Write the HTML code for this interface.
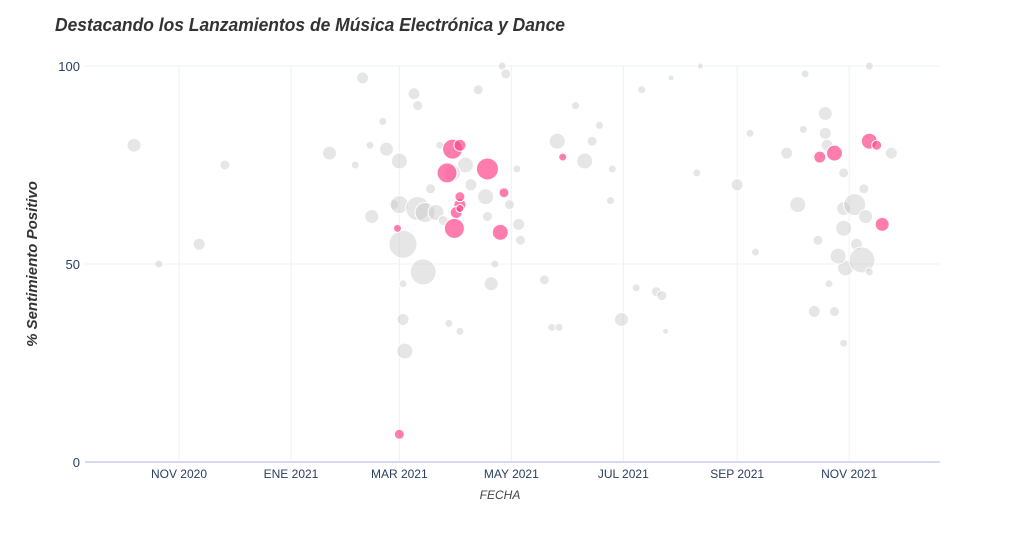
<!DOCTYPE html>
<html><head><meta charset="utf-8"><style>
html,body{margin:0;padding:0;background:#fff;}
svg text{font-family:"Liberation Sans",sans-serif;}
</style></head><body>
<svg id="chart" width="1024" height="546" xmlns="http://www.w3.org/2000/svg">
<text x="55" y="31" font-size="18" font-weight="bold" font-style="italic" fill="#333" textLength="510" lengthAdjust="spacingAndGlyphs">Destacando los Lanzamientos de Música Electrónica y Dance</text>
<g id="grid"></g>
<g id="marks"></g>
<g id="axes"></g>
<text transform="translate(37,264) rotate(-90)" text-anchor="middle" font-size="15" font-weight="bold" font-style="italic" fill="#333">% Sentimiento Positivo</text>
<text x="500" y="499" text-anchor="middle" font-size="12" font-style="italic" fill="#444">FECHA</text>
</svg>
<script>
// days since 2020-11-01, % positive, marker size
const grayDays=[-24.5,-11,11,25,82,96,100,105,104,111,113,117,120,122,123,122,120,122,128,130,133,130,134,137,142,140,147,153,144,156,149,159,163,167,168,170,172,176,178,180,185,186,184,199,206,203,207,216,221,225,229,235,236,241,252,249,260,263,265,268,282,284,304,311,314,331,337,340,341,346,348,352,352,353,354,357,362,362,362,363,359,368,369,372,373,374,376,388,362,376];
const grayVals=[80,50,55,75,78,75,97,62,80,86,79,65,65,55,28,36,76,45,93,90,48,64,63,69,80,63,35,33,61,75,73,70,94,67,62,45,50,100,98,65,60,56,74,46,81,34,34,90,76,81,85,66,74,36,94,44,43,42,33,97,73,100,70,83,53,78,65,84,98,38,56,88,83,80,45,38,64,59,73,49,52,65,55,51,69,62,48,78,30,100];
const grayRad=[7,4,6,5,7,4,6,7,4,4,7,5,9,14,8,6,8,4,6,5,13,12,10,5,4,8,4,4,5,8,8,6,5,8,5,7,4,4,5,5,6,5,4,5,8,4,4,4,8,5,4,4,4,7,4,4,5,5,3,3,4,3,6,4,4,6,8,4,4,6,5,7,6,6,4,5,7,8,5,8,8,11,6,13,5,7,4,6,4,4];
const pinkDays=[120,119,146,149,153,150,153,153,151,153,168,175,177,209,349,357,376,380,383];
const pinkVals=[7,59,73,79,80,59,65,67,63,64,74,58,68,77,77,78,81,80,60];
const pinkRad=[5,4,10,10,6,10,6,5,6,4,11,8,5,4,6,8,8,5,7];
const xTickDays=[0,61,120,181,242,304,365];
const xTickLabels=["NOV 2020","ENE 2021","MAR 2021","MAY 2021","JUL 2021","SEP 2021","NOV 2021"];
const yTicks=[0,50,100];

const NS="http://www.w3.org/2000/svg";
const L=85,R=940,T=66,B=462;
const xs=d=>179+d*1.836;
const ys=v=>B-(v/100)*(B-T);
function mk(tag,attrs,parent){const e=document.createElementNS(NS,tag);for(const k in attrs)e.setAttribute(k,attrs[k]);parent.appendChild(e);return e;}
const grid=document.getElementById('grid'),marks=document.getElementById('marks'),axes=document.getElementById('axes');
xTickDays.forEach((d,i)=>{
  const l=mk('line',{x1:xs(d),x2:xs(d),y1:T,y2:B,stroke:'#ebf0f8','stroke-width':1},grid);
  
  
  const t=mk('text',{x:xs(d),y:478,'text-anchor':'middle','font-size':12,fill:'#2a3f5f'},axes);
  t.textContent=xTickLabels[i];
  
  
});
yTicks.forEach(v=>{
  const l=mk('line',{x1:L,x2:R,y1:ys(v),y2:ys(v),stroke:v===0?'#d6daf0':'#ebf0f8','stroke-width':v===0?2:1},grid);
  
  
  const t=mk('text',{x:80,y:ys(v)+5,'text-anchor':'end','font-size':13,fill:'#2a3f5f'},axes);
  t.textContent=v;
  
  
});
grayDays.forEach((d,i)=>{
  const c=mk('circle',{cx:xs(d),cy:ys(grayVals[i]),r:grayRad[i],fill:'rgba(200,200,200,0.45)',stroke:'#fff','stroke-width':1},marks);
  
  
});
pinkDays.forEach((d,i)=>{
  const c=mk('circle',{cx:xs(d),cy:ys(pinkVals[i]),r:pinkRad[i],fill:'rgba(255,70,140,0.7)',stroke:'#fff','stroke-width':1},marks);
  
  
});
</script>
</body></html>
